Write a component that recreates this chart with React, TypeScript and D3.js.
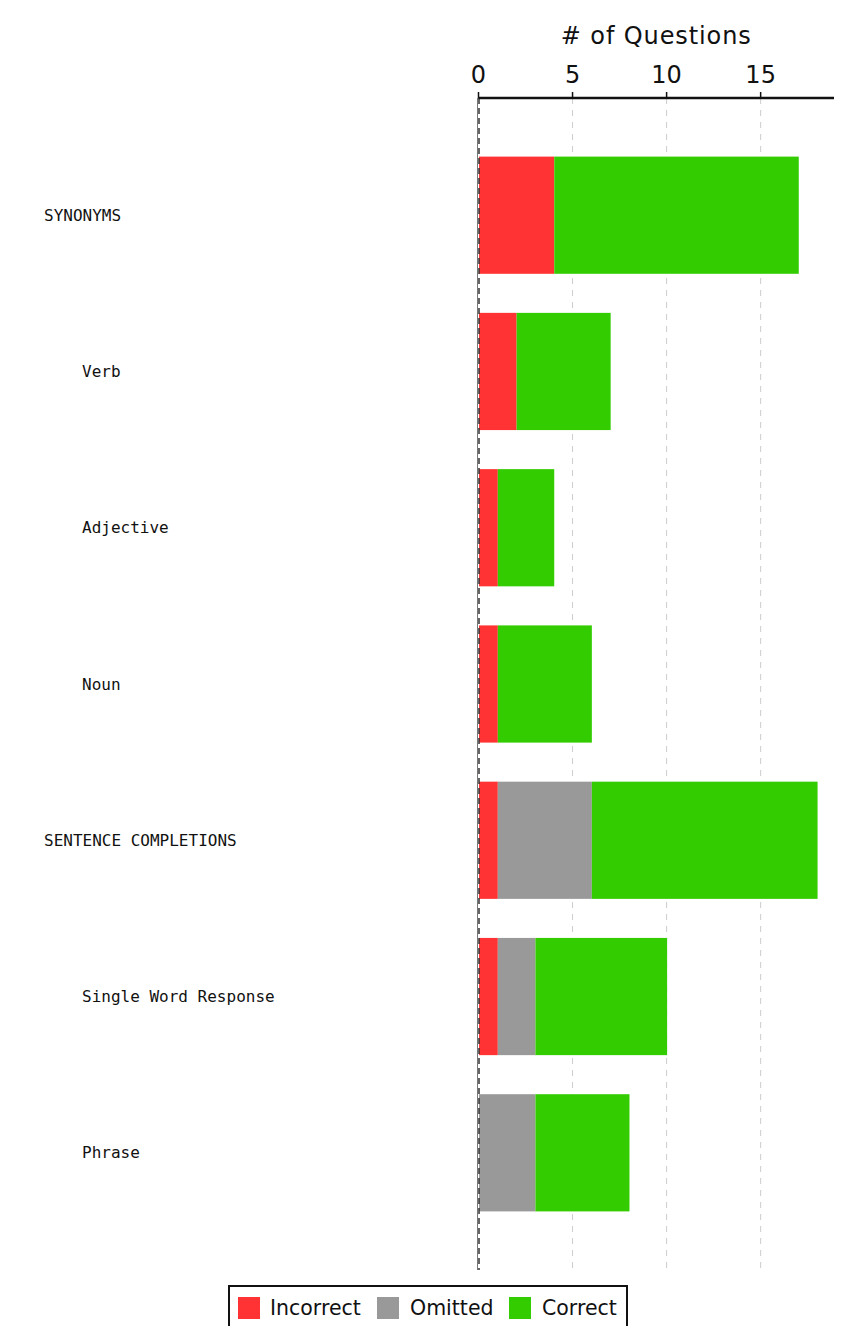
import React from "react";
import * as d3 from "d3";

const categories = [
  "SYNONYMS",
  "Verb",
  "Adjective",
  "Noun",
  "SENTENCE COMPLETIONS",
  "Single Word Response",
  "Phrase",
];
const indented = [false, true, true, true, false, true, true];
const incorrect = [4, 2, 1, 1, 1, 1, 0];
const omitted = [0, 0, 0, 0, 5, 2, 3];
const correct = [13, 5, 3, 5, 12, 7, 5];
const seriesNames = ["Incorrect", "Omitted", "Correct"];
const seriesColors = ["#ff3333", "#999999", "#33cc00"];
const xTicks = [0, 5, 10, 15];

const W = 856;
const H = 1326;

export default function App() {
  const left = 478.5;
  const right = 834;
  const top = 98;
  const bottom = 1270;
  const maxTotal = d3.max(categories.map((_, i) => incorrect[i] + omitted[i] + correct[i])) as number;
  const x = d3.scaleLinear().domain([0, maxTotal * 1.05]).range([left, right]);
  const y = d3
    .scaleBand<string>()
    .domain(categories)
    .range([top, bottom])
    .paddingInner(0.25)
    .paddingOuter(0.375);

  const rows = categories.map((c, i) => {
    const vals = [incorrect[i], omitted[i], correct[i]];
    let acc = 0;
    const segs = vals.map((v, k) => {
      const s = { x0: acc, x1: acc + v, k };
      acc += v;
      return s;
    });
    return { c, i, segs };
  });

  const legendItems = [
    { swatch: 238, text: 270 },
    { swatch: 377, text: 410 },
    { swatch: 509, text: 542 },
  ];

  return (
    <svg
      width={W}
      height={H}
      style={{ position: "absolute", left: 0, top: 0, background: "#fff" }}
    >
      {/* grid lines */}
      {xTicks.slice(1).map((t) => (
        <line
          key={t}
          x1={x(t)}
          x2={x(t)}
          y1={top}
          y2={bottom}
          stroke="#cccccc"
          strokeWidth={1}
          strokeDasharray="6,6"
        />
      ))}
      {/* bars */}
      {rows.map((r) =>
        r.segs
          .filter((s) => s.x1 > s.x0)
          .map((s) => (
            <rect
              key={r.c + s.k}
              x={x(s.x0) + 0.5}
              y={y(r.c)}
              width={x(s.x1) - x(s.x0)}
              height={y.bandwidth()}
              fill={seriesColors[s.k]}
            />
          ))
      )}
      {/* zero line */}
      <line x1={left - 1} x2={left - 1} y1={top} y2={bottom} stroke="#777" strokeWidth={1} />
      <line
        x1={left + 0.5}
        x2={left + 0.5}
        y1={top}
        y2={bottom}
        stroke="#333"
        strokeWidth={1.5}
        strokeDasharray="6,4"
      />
      {/* category labels */}
      {categories.map((c, i) => (
        <text
          key={c}
          x={indented[i] ? 82 : 44}
          y={(y(c) as number) + y.bandwidth() / 2}
          dy="0.35em"
          fontFamily="'DejaVu Sans Mono', monospace"
          fontSize={16}
          fill="#111"
        >
          {c}
        </text>
      ))}
      {/* top axis */}
      <line x1={left} x2={right} y1={top} y2={top} stroke="#111" strokeWidth={2.5} />
      {xTicks.map((t) => (
        <g key={t}>
          <line x1={x(t)} x2={x(t)} y1={top} y2={top - 6} stroke="#111" strokeWidth={1.5} />
          <text
            x={x(t)}
            y={83}
            textAnchor="middle"
            fontFamily="'DejaVu Sans', sans-serif"
            fontSize={24}
            fill="#111"
          >
            {t}
          </text>
        </g>
      ))}
      <text
        x={(left + right) / 2}
        y={44}
        textAnchor="middle"
        fontFamily="'DejaVu Sans', sans-serif"
        fontSize={24}
        letterSpacing={0.9}
        fill="#111"
      >
        # of Questions
      </text>
      {/* legend */}
      <rect x={229} y={1286} width={398} height={60} fill="#fff" stroke="#111" strokeWidth={2} />
      {legendItems.map((l, k) => (
        <g key={k}>
          <rect x={l.swatch} y={1297} width={22} height={22} fill={seriesColors[k]} />
          <text
            x={l.text}
            y={1315}
            fontFamily="'DejaVu Sans', sans-serif"
            fontSize={20.5}
            fill="#111"
          >
            {seriesNames[k]}
          </text>
        </g>
      ))}
    </svg>
  );
}
